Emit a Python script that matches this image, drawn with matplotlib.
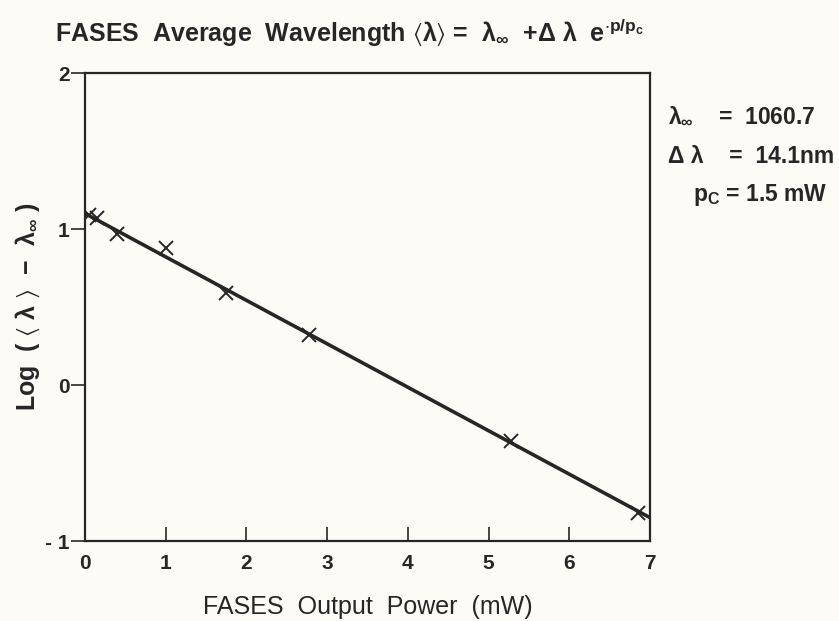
import matplotlib.pyplot as plt

plt.rcParams['font.family'] = ['Liberation Sans', 'DejaVu Sans']
plt.rcParams['mathtext.fontset'] = 'custom'
plt.rcParams['mathtext.rm'] = 'Liberation Sans'
plt.rcParams['mathtext.it'] = 'Liberation Sans'
plt.rcParams['mathtext.bf'] = 'Liberation Sans:bold'
plt.rcParams['mathtext.default'] = 'regular'
plt.rcParams['mathtext.fallback'] = 'stixsans'

## data
power = [0.05, 0.15, 0.4, 1.0, 1.75, 2.78, 5.28, 6.85]
log_shift = [1.09, 1.07, 0.97, 0.88, 0.59, 0.32, -0.36, -0.82]
fit_power = [0, 7]
fit_log = [1.10, -0.85]
xticks = [0, 1, 2, 3, 4, 5, 6, 7]
yticks = [-1, 0, 1, 2]

ink = '#262626'
bg = '#fcfbf6'

fig = plt.figure(figsize=(8.39, 6.21), dpi=100, facecolor=bg)
ax = fig.add_axes([0.1013, 0.1288, 0.6734, 0.7536], facecolor=bg)

ax.plot(fit_power, fit_log, color=ink, linewidth=2.6, solid_capstyle='butt')
ax.plot(power, log_shift, linestyle='none', marker='x', markersize=10,
        markeredgewidth=1.4, color=ink)

ax.set_xlim(0, 7)
ax.set_ylim(-1, 2)
ax.set_xticks(xticks)
ax.set_yticks(yticks)
ax.set_yticklabels(['- 1', '0', '1', '2'])
ax.tick_params(axis='x', direction='in', length=10, width=1.2, colors=ink,
               labelsize=15, pad=9)
ax.tick_params(axis='y', direction='out', length=10, width=1.2, colors=ink,
               labelsize=15, pad=1)
for lab in ax.get_xticklabels() + ax.get_yticklabels():
    lab.set_fontweight('bold')
for s in ax.spines.values():
    s.set_linewidth(1.6)
    s.set_color(ink)

ax.set_xlabel('FASES  Output  Power  (mW)', fontsize=18, color=ink)
ax.xaxis.set_label_coords(0.5, -0.115)
ax.set_ylabel(r'Log  ( $\langle$ λ $\rangle$  −  λ$_{\infty}$ )', fontsize=18,
              color=ink, fontweight='bold')
ax.yaxis.set_label_coords(-0.076, 0.50)

fig.text(0.066, 0.948,
         r'FASES  Average  Wavelength $\langle$λ$\rangle$ =  λ$_{\infty}$  +Δ λ  e$^{\cdot p/p_c}$',
         fontsize=18, color=ink, fontweight='bold', va='center')

fig.text(0.796, 0.813, 'λ$_{\\infty}$    =  1060.7', fontsize=16.5, color=ink,
         fontweight='bold', va='center')
fig.text(0.796, 0.748, 'Δ λ    =  14.1nm', fontsize=16.5, color=ink,
         fontweight='bold', va='center')
fig.text(0.826, 0.686, 'p$_C$ = 1.5 mW', fontsize=16.5, color=ink,
         fontweight='bold', va='center')

plt.savefig('out.png', dpi=100, facecolor=bg)
